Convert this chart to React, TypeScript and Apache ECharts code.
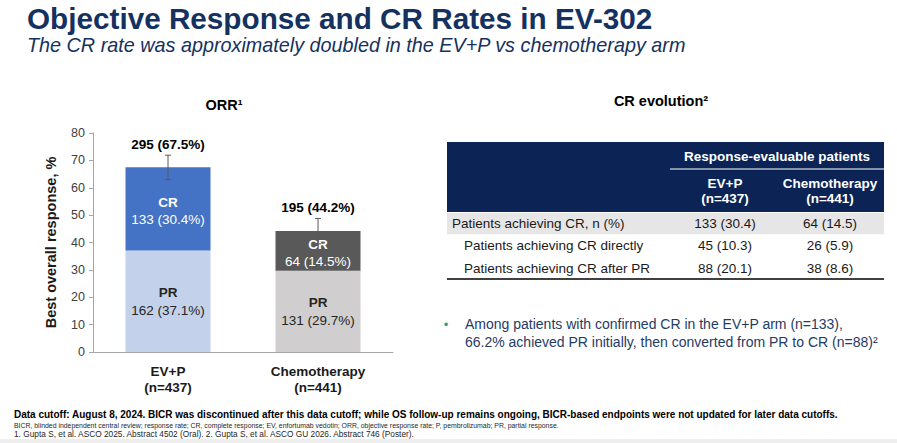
import React, { useEffect, useRef } from "react";
import * as echarts from "echarts";

// ---- Data ----
const categories = ["EV+P\n(n=437)", "Chemotherapy\n(n=441)"];
const prPct = [37.1, 29.7];
const crPct = [30.4, 14.5];
const prN = [162, 131];
const crN = [133, 64];
const totalN = [295, 195];
const totalPct = [67.5, 44.2];
const ciLow = [63.0, 39.5];
const ciHigh = [71.9, 48.8];
const prColors = ["#C3D1EB", "#D0CECE"];
const crColors = ["#4472C4", "#595959"];

const tableGroupHeader = "Response-evaluable patients";
const tableCols = ["EV+P\n(n=437)", "Chemotherapy\n(n=441)"];
const tableRowLabels = [
  "Patients achieving CR, n (%)",
  "Patients achieving CR directly",
  "Patients achieving CR after PR",
];
const tableEvp = ["133 (30.4)", "45 (10.3)", "88 (20.1)"];
const tableChemo = ["64 (14.5)", "26 (5.9)", "38 (8.6)"];

const titleText = "Objective Response and CR Rates in EV-302";
const subtitleText = "The CR rate was approximately doubled in the EV+P vs chemotherapy arm";
const bulletLines = [
  "Among patients with confirmed CR in the EV+P arm (n=133),",
  "66.2% achieved PR initially, then converted from PR to CR (n=88)²",
];
const footLines = [
  "Data cutoff: August 8, 2024. BICR was discontinued after this data cutoff; while OS follow-up remains ongoing, BICR-based endpoints were not updated for later data cutoffs.",
  "BICR, blinded independent central review; response rate; CR, complete response; EV, enfortumab vedotin; ORR, objective response rate; P, pembrolizumab; PR, partial response.",
  "1. Gupta S, et al. ASCO 2025. Abstract 4502 (Oral). 2. Gupta S, et al. ASCO GU 2026. Abstract 746 (Poster).",
];

const FONT = "Liberation Sans, Arial, sans-serif";
const NAVY = "#15315F";

export default function App() {
  const ref = useRef<HTMLDivElement>(null);
  useEffect(() => {
    if (!ref.current) return;
    const chart = echarts.init(ref.current, undefined, { renderer: "svg" });

    // table graphics
    const tX0 = 447, tX1 = 884, tSplit = 670;
    const colCenters = [725, 830];
    const headTop = 142, headBottom = 212;
    const rowH = 22.3;
    const tableEls: any[] = [];
    tableEls.push({ type: "rect", shape: { x: tX0, y: headTop, width: tX1 - tX0, height: headBottom - headTop }, style: { fill: "#0B2455" } });
    tableEls.push({ type: "line", shape: { x1: tSplit, y1: 169, x2: tX1, y2: 169 }, style: { stroke: "#ffffff", lineWidth: 1 } });
    tableEls.push({ type: "text", x: (tSplit + tX1) / 2, y: 156, style: { text: tableGroupHeader, fill: "#fff", font: `bold 13.5px ${FONT}`, align: "center", verticalAlign: "middle" } });
    tableCols.forEach((c, i) => {
      tableEls.push({ type: "text", x: colCenters[i], y: 191, style: { text: c, fill: "#fff", font: `bold 13.5px ${FONT}`, align: "center", verticalAlign: "middle", lineHeight: 15.5 } });
    });
    tableEls.push({ type: "rect", shape: { x: tX0, y: headBottom + 1, width: tX1 - tX0, height: rowH - 1 }, style: { fill: "#E7E6E6" } });
    tableRowLabels.forEach((lab, r) => {
      const cy = headBottom + rowH * r + rowH / 2 + 0.5;
      tableEls.push({ type: "text", x: r === 0 ? 452 : 464, y: cy, style: { text: lab, fill: "#1a1a1a", font: `13.5px ${FONT}`, align: "left", verticalAlign: "middle" } });
      tableEls.push({ type: "text", x: colCenters[0], y: cy, style: { text: tableEvp[r], fill: "#1a1a1a", font: `13.5px ${FONT}`, align: "center", verticalAlign: "middle" } });
      tableEls.push({ type: "text", x: colCenters[1], y: cy, style: { text: tableChemo[r], fill: "#1a1a1a", font: `13.5px ${FONT}`, align: "center", verticalAlign: "middle" } });
    });
    tableEls.push({ type: "line", shape: { x1: tX0, y1: 279, x2: tX1, y2: 279 }, style: { stroke: "#000", lineWidth: 1.5 } });

    const option: any = {
      animation: false,
      backgroundColor: "#ffffff",
      textStyle: { fontFamily: FONT },
      grid: { left: 93, top: 133, width: 300, height: 219, containLabel: false },
      xAxis: {
        type: "category",
        data: categories,
        axisLine: { lineStyle: { color: "#A6A6A6" } },
        axisTick: { show: false },
        axisLabel: { fontFamily: FONT, fontWeight: "bold", fontSize: 13.5, color: "#1a1a1a", lineHeight: 16, margin: 11 },
      },
      yAxis: {
        type: "value",
        min: 0,
        max: 80,
        interval: 10,
        name: "Best overall response, %",
        nameLocation: "middle",
        nameGap: 35,
        nameTextStyle: { fontFamily: FONT, fontWeight: "bold", fontSize: 14.5, color: "#1a1a1a" },
        axisLine: { show: true, lineStyle: { color: "#A6A6A6" } },
        axisTick: { show: true, length: 4, lineStyle: { color: "#A6A6A6" } },
        splitLine: { show: false },
        axisLabel: { fontFamily: FONT, fontSize: 12.5, color: "#404040", margin: 8 },
      },
      series: [
        {
          type: "bar",
          stack: "orr",
          barWidth: 85,
          data: prPct.map((v, i) => ({ value: v, itemStyle: { color: prColors[i] } })),
          label: {
            show: true,
            position: "inside",
            formatter: (p: any) => `{b|PR}\n{n|${prN[p.dataIndex]} (${prPct[p.dataIndex]}%)}`,
            rich: {
              b: { fontFamily: FONT, fontWeight: "bold", fontSize: 13.5, color: "#262626", lineHeight: 18 },
              n: { fontFamily: FONT, fontSize: 13.5, color: "#262626", lineHeight: 18 },
            },
          },
        },
        {
          type: "bar",
          stack: "orr",
          barWidth: 85,
          data: crPct.map((v, i) => ({ value: v, itemStyle: { color: crColors[i] } })),
          label: {
            show: true,
            position: "inside",
            offset: [0, 2],
            formatter: (p: any) => `{b|CR}\n{n|${crN[p.dataIndex]} (${crPct[p.dataIndex]}%)}`,
            rich: {
              b: { fontFamily: FONT, fontWeight: "bold", fontSize: 13.5, color: "#ffffff", lineHeight: 17 },
              n: { fontFamily: FONT, fontSize: 13.5, color: "#ffffff", lineHeight: 17 },
            },
          },
        },
        {
          type: "custom",
          data: categories.map((_, i) => [i, ciLow[i], ciHigh[i]]),
          z: 10,
          renderItem: (params: any, api: any) => {
            const i = params.dataIndex;
            const x = api.value(0);
            const lo = api.coord([x, api.value(1)]);
            const hi = api.coord([x, api.value(2)]);
            const cap = 3;
            const st = { stroke: "#595959", lineWidth: 1 };
            return {
              type: "group",
              children: [
                { type: "line", shape: { x1: lo[0], y1: lo[1], x2: hi[0], y2: hi[1] }, style: st },
                { type: "line", shape: { x1: hi[0] - cap, y1: hi[1], x2: hi[0] + cap, y2: hi[1] }, style: st },
                { type: "line", shape: { x1: lo[0] - cap, y1: lo[1], x2: lo[0] + cap, y2: lo[1] }, style: st },
                {
                  type: "text",
                  x: hi[0],
                  y: hi[1] - 11,
                  style: {
                    text: `${totalN[i]} (${totalPct[i]}%)`,
                    font: `bold 13.5px ${FONT}`,
                    fill: "#000",
                    align: "center",
                    verticalAlign: "middle",
                  },
                },
              ],
            };
          },
        },
      ],
      graphic: [
        { type: "text", x: 27, y: 18, style: { text: titleText, font: `bold 29.7px ${FONT}`, fill: NAVY, verticalAlign: "middle" } },
        { type: "text", x: 27, y: 45, style: { text: subtitleText, font: `italic 19.8px ${FONT}`, fill: NAVY, verticalAlign: "middle" } },
        { type: "text", x: 224, y: 105, style: { text: "ORR¹", font: `bold 14.5px ${FONT}`, fill: "#000", align: "center", verticalAlign: "middle" } },
        { type: "text", x: 661, y: 101, style: { text: "CR evolution²", font: `bold 14.5px ${FONT}`, fill: "#000", align: "center", verticalAlign: "middle" } },
        ...tableEls,
        { type: "text", x: 446, y: 324, style: { text: "•", font: `13px ${FONT}`, fill: "#2EA36B", align: "center", verticalAlign: "middle" } },
        ...bulletLines.map((l, i) => ({ type: "text", x: 465, y: 324 + i * 18, style: { text: l, font: `14px ${FONT}`, fill: "#1F3B66", verticalAlign: "middle" } })),
        { type: "text", x: 14, y: 414, style: { text: footLines[0], font: `bold 10px ${FONT}`, fill: "#000", verticalAlign: "middle" } },
        { type: "text", x: 14, y: 425, style: { text: footLines[1], font: `6.9px ${FONT}`, fill: "#262626", verticalAlign: "middle" } },
        { type: "text", x: 14, y: 434, style: { text: footLines[2], font: `8.3px ${FONT}`, fill: "#262626", verticalAlign: "middle" } },
        { type: "rect", shape: { x: 0, y: 439, width: 897, height: 4 }, style: { fill: "#EEEEEE" } },
      ],
    };
    chart.setOption(option);
    return () => chart.dispose();
  }, []);
  return <div ref={ref} style={{ position: "absolute", left: 0, top: 0, width: 897, height: 443, background: "#fff" }} />;
}
